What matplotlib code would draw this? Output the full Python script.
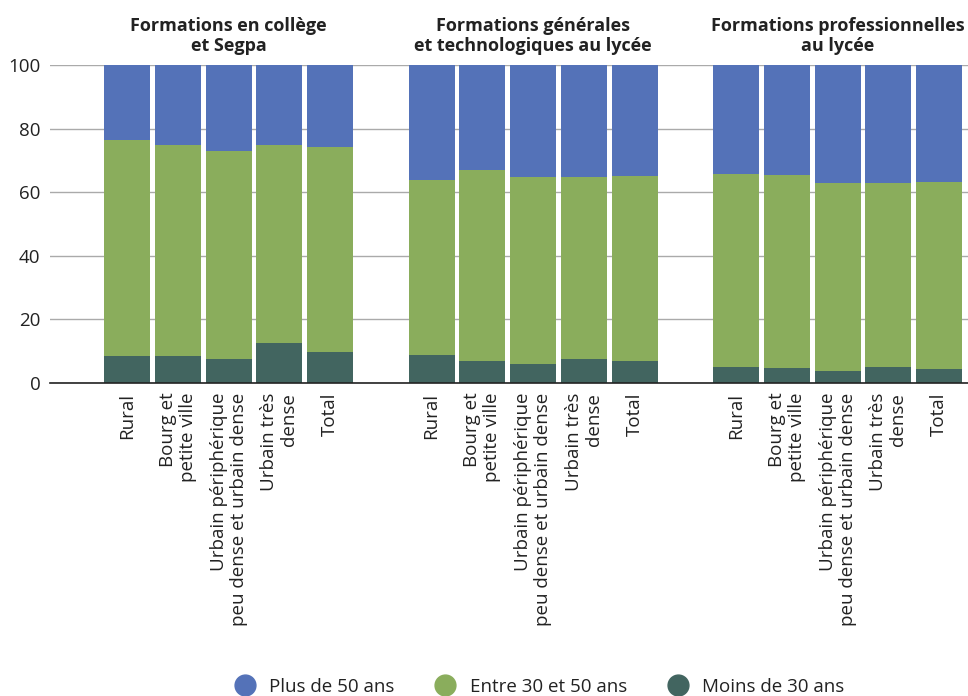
import matplotlib
matplotlib.use("Agg")
import matplotlib.pyplot as plt
from matplotlib.lines import Line2D
import numpy as np

plt.rcParams['font.family'] = ['Open Sans', 'DejaVu Sans']

groups = ["Formations en collège\net Segpa",
          "Formations générales\net technologiques au lycée",
          "Formations professionnelles\nau lycée"]
categories = ["Rural", "Bourg et\npetite ville",
              "Urbain périphérique\npeu dense et urbain dense",
              "Urbain très\ndense", "Total"]
series = ["Plus de 50 ans", "Entre 30 et 50 ans", "Moins de 30 ans"]

moins30 = [[8.5, 8.5, 7.6, 12.5, 9.7],
           [8.8, 7.0, 6.0, 7.6, 6.9],
           [5.0, 4.7, 3.9, 4.9, 4.4]]
entre30_50 = [[67.9, 66.3, 65.3, 62.4, 64.6],
              [55.1, 60.0, 58.9, 57.1, 58.1],
              [60.7, 60.6, 59.1, 57.9, 58.8]]
plus50 = [[23.6, 25.2, 27.1, 25.1, 25.7],
          [36.1, 33.0, 35.1, 35.3, 35.0],
          [34.3, 34.7, 37.0, 37.2, 36.8]]

colors = {"Plus de 50 ans": "#5472B8",
          "Entre 30 et 50 ans": "#8AAD5C",
          "Moins de 30 ans": "#426560"}

fig = plt.figure(figsize=(9.68, 6.96), dpi=100)
ax = fig.add_axes([50/968, 1-383/696, 1-50/968, (383-65)/696])

width = 0.906
xs, labels = [], []
for g in range(3):
    pos = np.arange(5) + 6*g
    m = np.array(moins30[g]); e = np.array(entre30_50[g]); p = np.array(plus50[g])
    ax.bar(pos, m, width, color=colors["Moins de 30 ans"], zorder=3)
    ax.bar(pos, e, width, bottom=m, color=colors["Entre 30 et 50 ans"], zorder=3)
    ax.bar(pos, p, width, bottom=m+e, color=colors["Plus de 50 ans"], zorder=3)
    xs.extend(pos); labels.extend(categories)
    ax.text(pos.mean(), 1.03, groups[g], transform=ax.get_xaxis_transform(),
            ha='center', va='bottom', fontsize=13, fontweight='bold', color='#222222',
            linespacing=1.2)

ax.set_xlim(-1.52, 16.57)
ax.set_ylim(0, 100)
ax.set_yticks([0, 20, 40, 60, 80, 100])
ax.set_xticks(xs)
ax.set_xticklabels(labels, rotation=90, fontsize=13.5, color='#222222',
                   ha='center', va='top', multialignment='right', linespacing=1.15)
ax.tick_params(axis='x', length=0, pad=7)
ax.tick_params(axis='y', length=0, labelsize=13.5, labelcolor='#222222', pad=7)
ax.grid(axis='y', color='#aaaaaa', linewidth=1, zorder=0)
for s in ['top', 'right', 'left']:
    ax.spines[s].set_visible(False)
ax.spines['bottom'].set_color('#222222')
ax.spines['bottom'].set_linewidth(1.2)
ax.spines['bottom'].set_zorder(4)

handles = [Line2D([], [], marker='o', linestyle='', markersize=15,
                  markerfacecolor=colors[s], markeredgecolor=colors[s]) for s in series]
fig.legend(handles, series, loc='lower center', bbox_to_anchor=(0.553, -0.024), ncol=3,
           frameon=False, fontsize=13.5, handletextpad=0.3, columnspacing=1.7,
           labelcolor='#222222')

fig.savefig("out.png", dpi=100)
